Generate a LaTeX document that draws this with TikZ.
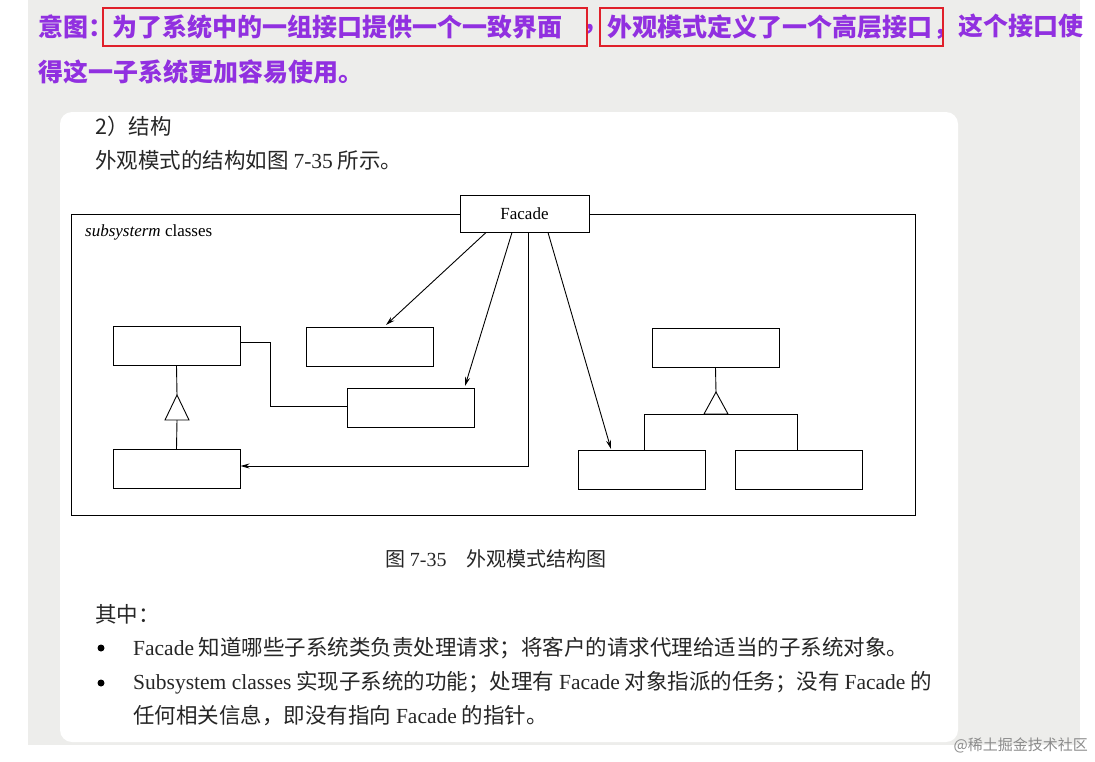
\documentclass[tikz,border=0pt]{standalone}
\usepackage{fontspec}
\setmainfont{Liberation Serif}
\newfontfamily\cjk{Noto Sans CJK SC}
\newfontfamily\lat{Liberation Serif}
\usetikzlibrary{arrows.meta}
\definecolor{pur}{HTML}{9130E0}
\definecolor{bg}{HTML}{EDEDEB}
\definecolor{rd}{HTML}{E0202A}
\tikzset{x=1pt,y=-1pt,
 cls/.style={draw,line width=1pt},
 ln/.style={line width=0.9pt},
 arr/.style={line width=0.9pt,-{Stealth[length=9pt,width=5pt]}},
 txt/.style={anchor=west,inner sep=0pt,font=\cjk\fontsize{21.5}{24}\selectfont,text=black!85},
 hd/.style={anchor=west,inner sep=0pt,font=\cjk\bfseries\fontsize{25}{28}\selectfont,text=pur}}
\begin{document}
\begin{tikzpicture}
\useasboundingbox (0,0) rectangle (1095,761);
\fill[white] (0,0) rectangle (1095,761);
\fill[bg] (28,0) rectangle (1080,745);
\fill[white,rounded corners=12pt] (60,112) rectangle (958,742);
% heading
\node[hd] (h1) at (38,27) {意图：};
\node[hd] (h2) at (112,27) {为了系统中的一组接口提供一个一致界面};
\node[hd] (h3) at (582,29) {，};
\node[hd] (h4) at (607,27) {外观模式定义了一个高层接口};
\node[hd] (h5) at (933,27) {，这个接口使};
\node[hd] (h6) at (38,72) {得这一子系统更加容易使用。};
\draw[rd,line width=2pt] (103,8) rectangle (587,46);
\draw[rd,line width=2pt] (600,8) rectangle (943,46);
% body text
\node[txt] (t1) at (95,126) {2）结构};
\node[txt] (t2) at (95,160) {外观模式的结构如图 {\lat 7-35} 所示。};
% diagram
\draw[cls] (71,214) rectangle (915,515);
\node[cls,fill=white,minimum width=129pt,minimum height=37pt,inner sep=0pt,font=\lat\fontsize{17}{19}\selectfont] (fa) at (524.5,213.5) {Facade};
\node[anchor=west,inner sep=0pt,font=\lat\fontsize{17}{19}\selectfont] (sc) at (85,232) {\textit{subsysterm} classes};
\tikzset{bx/.style={cls,minimum width=127pt,minimum height=39pt,inner sep=0pt}}
\node[bx] (A) at (176.5,345.5) {};
\node[bx] (B) at (370,347) {};
\node[bx] (C) at (410.5,407.5) {};
\node[bx] (D) at (176.5,469) {};
\node[bx] (E) at (715.5,347.5) {};
\node[bx] (F) at (642,470) {};
\node[bx] (G) at (799,470) {};
% inheritance A-D
\coordinate (ta) at (177,395);
\draw[ln] (A.south) -- (ta);
\draw[ln] (ta) -- (165,420) -- (189,420) -- cycle;
\draw[ln] (177,420) -- (D.north);
% inheritance E-F,G
\coordinate (te) at (716,392);
\draw[ln] (E.south) -- (te);
\draw[ln] (te) -- (704,414) -- (728,414) -- cycle;
\draw[ln] (F.north -| 644,0) -- (644,414) -- (797,414) -- (G.north -| 797,0);
% A to C
\draw[ln] (A.east |- 0,342) -- (270,342) -- (270,406) -- (C.west |- 0,406);
% facade arrows
\draw[arr] (fa.south -| 486,0) -- (386,325);
\draw[arr] (fa.south -| 512,0) -- (465,386);
\draw[arr] (fa.south -| 548,0) -- (611,449);
\draw[arr] (fa.south -| 528,0) -- (528,466) -- (D.east |- 0,466);
% caption and text
\node[txt,anchor=center,font=\cjk\fontsize{20}{22}\selectfont] (cap) at (496,559) {图 {\lat 7-35}　外观模式结构图};
\node[txt] (t3) at (95,614) {其中：};
\fill (101,648) circle (3.5pt);
\node[txt] (t4) at (133,648) {{\lat Facade} 知道哪些子系统类负责处理请求；将客户的请求代理给适当的子系统对象。};
\fill (101,683) circle (3.5pt);
\node[txt] (t5) at (133,683) {{\lat Subsystem classes} 实现子系统的功能；处理有 {\lat Facade} 对象指派的任务；没有 {\lat Facade} 的};
\node[txt] (t6) at (133,716) {任何相关信息，即没有指向 {\lat Facade} 的指针。};
\node[anchor=east,inner sep=0pt,font=\cjk\fontsize{15}{17}\selectfont,text=black!45] (wm) at (1088,745) {@稀土掘金技术社区};
\end{tikzpicture}
\end{document}
